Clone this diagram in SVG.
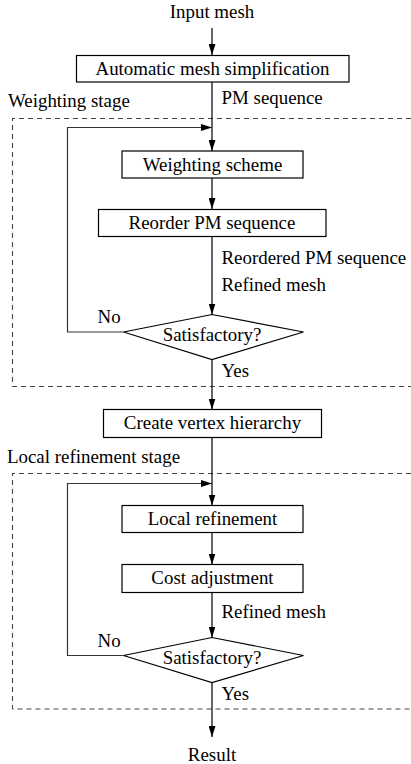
<svg xmlns="http://www.w3.org/2000/svg" width="411" height="764" viewBox="0 0 411 764">
<style>
text{font-family:"Liberation Serif","Times New Roman",serif;font-size:18.9px;fill:#000}
.c{text-anchor:middle}
.box{fill:#fff;stroke:#000;stroke-width:1.2}
.ln{fill:none;stroke:#000;stroke-width:1.2}
.lp{fill:none;stroke:#333;stroke-width:1.2}
.dash{fill:none;stroke:#444;stroke-width:1.1;stroke-dasharray:5 4}
</style>
<defs>
<marker id="ah" viewBox="0 0 11 7" refX="11" refY="3.5" markerWidth="11" markerHeight="7" markerUnits="userSpaceOnUse" orient="auto">
<path d="M0,0 L11,3.5 L0,7 Z" fill="#000"/>
</marker>
</defs>
<rect width="411" height="764" fill="#fff"/>
<g id="stages">
<path class="dash" d="M420,118.5 H12.5 V386.5 H420"/>
<text x="8" y="107">Weighting stage</text>
<path class="dash" d="M420,473.5 H12.5 V709 H420"/>
<text x="7" y="463">Local refinement stage</text>
</g>
<g id="connectors">
<line class="ln" x1="212" y1="28" x2="212" y2="55" marker-end="url(#ah)"/>
<line class="ln" x1="212" y1="82" x2="212" y2="151" marker-end="url(#ah)"/>
<polyline class="lp" points="123.5,332 67.5,332 67.5,127.5 212,127.5" marker-end="url(#ah)"/>
<line class="ln" x1="212" y1="178" x2="212" y2="209" marker-end="url(#ah)"/>
<line class="ln" x1="212" y1="237" x2="212" y2="314.5" marker-end="url(#ah)"/>
<line class="ln" x1="212" y1="359.5" x2="212" y2="409.5" marker-end="url(#ah)"/>
<line class="ln" x1="212" y1="437.5" x2="212" y2="505.5" marker-end="url(#ah)"/>
<polyline class="lp" points="123.5,655.5 67.5,655.5 67.5,483.5 212,483.5" marker-end="url(#ah)"/>
<line class="ln" x1="212" y1="532.5" x2="212" y2="564.5" marker-end="url(#ah)"/>
<line class="ln" x1="212" y1="592.5" x2="212" y2="637.5" marker-end="url(#ah)"/>
<line class="ln" x1="212" y1="682.5" x2="212" y2="737" marker-end="url(#ah)"/>
<text x="221.5" y="104">PM sequence</text>
<text x="221.5" y="264">Reordered PM sequence</text>
<text x="221.5" y="290.5">Refined mesh</text>
<text x="97.5" y="323">No</text>
<text x="221.5" y="377">Yes</text>
<text x="221.5" y="618">Refined mesh</text>
<text x="97.5" y="646.5">No</text>
<text x="221.5" y="700">Yes</text>
</g>
<g id="input"><text class="c" x="212" y="18">Input mesh</text></g>
<g id="simplify"><rect class="box" x="76.5" y="55.5" width="272.5" height="26.5"/><text class="c" x="212.5" y="75">Automatic mesh simplification</text></g>
<g id="weighting"><rect class="box" x="122" y="151" width="181" height="27"/><text class="c" x="212.5" y="170.5">Weighting scheme</text></g>
<g id="reorder"><rect class="box" x="98.5" y="209.5" width="227.5" height="27"/><text class="c" x="212" y="229">Reorder PM sequence</text></g>
<g id="satisfactory1"><polygon class="box" points="212,314.5 303.5,332 212,359.5 123.5,332"/><text class="c" x="212" y="340.5">Satisfactory?</text></g>
<g id="hierarchy"><rect class="box" x="103.5" y="409.5" width="218" height="28"/><text class="c" x="212.5" y="429">Create vertex hierarchy</text></g>
<g id="localref"><rect class="box" x="122" y="505.5" width="181" height="27"/><text class="c" x="212.5" y="525">Local refinement</text></g>
<g id="cost"><rect class="box" x="122" y="564.5" width="181" height="28"/><text class="c" x="212.5" y="584">Cost adjustment</text></g>
<g id="satisfactory2"><polygon class="box" points="212,637.5 303.5,655.5 212,682.5 123.5,655.5"/><text class="c" x="212" y="664">Satisfactory?</text></g>
<g id="result"><text class="c" x="212" y="760.5">Result</text></g>
</svg>
